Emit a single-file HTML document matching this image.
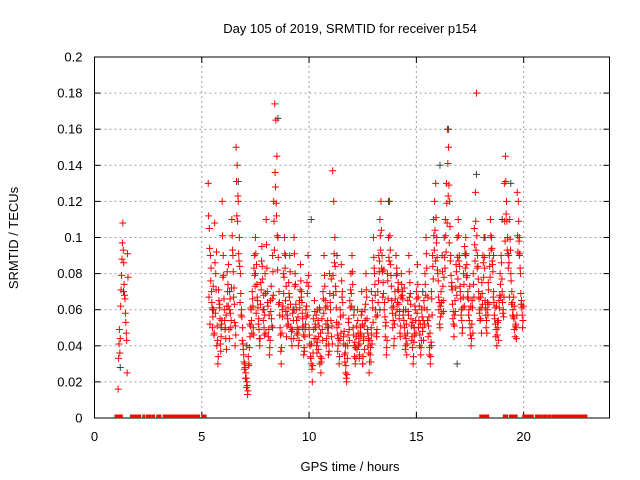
<!DOCTYPE html>
<html><head><meta charset="utf-8"><style>
html,body{margin:0;padding:0;background:#fff;}
svg{display:block;font-family:"Liberation Sans",sans-serif;}
</style></head><body>
<svg id="chart" width="640" height="480" viewBox="0 0 640 480" xmlns="http://www.w3.org/2000/svg">
<defs><clipPath id="pc"><rect x="94.5" y="57" width="515" height="361"/></clipPath></defs>
<rect x="0" y="0" width="640" height="480" fill="#fff"/>
<text x="350" y="33" font-size="13" text-anchor="middle" fill="#000">Day 105 of 2019, SRMTID for receiver p154</text>
<g id="grid"></g>
<g id="axes"></g>
<g id="grey" clip-path="url(#pc)"></g>
<g id="red" clip-path="url(#pc)"></g>
<text x="350" y="471" font-size="13" text-anchor="middle">GPS time / hours</text>
<text x="0" y="0" font-size="13" text-anchor="middle" transform="translate(18,238) rotate(-90)">SRMTID / TECUs</text>
</svg>
<script>
const xTicks=[0,5,10,15,20];
const yTicks=[0,0.02,0.04,0.06,0.08,0.1,0.12,0.14,0.16,0.18,0.2];
const yTickLabels=["0","0.02","0.04","0.06","0.08","0.1","0.12","0.14","0.16","0.18","0.2"];
const blockStart=[5.3,6.3,7.3,8.3,9.3,10.3,11.3,12.3,13.3,14.3,15.3,16.3,17.3,18.3,19.3];
const blockVals=[
[.13,.105,.09,.07,.05,.06,.108,.08,.04,.03,.065,.055,.045,.12,.09,.06,.05,.038,.07,.085],
[.06,.05,.11,.09,.072,.04,.15,.14,.12,.1,.08,.06,.05,.035,.03,.025,.02,.015,.03,.045],
[.06,.07,.05,.09,.1,.085,.065,.055,.04,.075,.095,.06,.05,.08,.11,.07,.045,.035,.065,.055],
[.09,.12,.174,.165,.145,.1,.07,.05,.03,.06,.08,.1,.065,.045,.055,.075,.09,.05,.04,.06],
[.1,.08,.06,.05,.04,.065,.085,.07,.055,.035,.045,.06,.075,.09,.05,.04,.03,.02,.055,.065],
[.05,.04,.06,.045,.03,.025,.055,.07,.09,.065,.04,.05,.035,.08,.06,.045,.137,.12,.1,.07],
[.05,.04,.03,.06,.085,.07,.045,.035,.025,.02,.04,.055,.065,.08,.09,.05,.04,.03,.045,.06],
[.04,.035,.05,.07,.03,.045,.06,.08,.055,.04,.025,.035,.05,.065,.1,.08,.06,.045,.07,.09],
[.11,.12,.09,.075,.06,.045,.035,.08,.1,.12,.085,.065,.05,.04,.07,.09,.06,.075,.055,.045],
[.08,.07,.06,.05,.04,.035,.065,.09,.075,.055,.045,.03,.05,.06,.07,.085,.05,.04,.035,.06],
[.05,.065,.08,.1,.06,.045,.035,.03,.07,.09,.11,.12,.13,.1,.08,.06,.05,.07,.09,.065],
[.1,.11,.13,.16,.15,.12,.09,.075,.055,.045,.065,.085,.1,.11,.09,.07,.06,.05,.08,.095],
[.1,.085,.07,.06,.05,.04,.065,.08,.105,.125,.18,.09,.07,.06,.055,.075,.09,.1,.065,.05],
[.06,.075,.09,.11,.1,.085,.07,.055,.045,.04,.05,.065,.08,.09,.07,.06,.13,.145,.12,.1],
[.09,.11,.08,.07,.06,.055,.045,.05,.125,.12,.1,.08,.065,.05]];
const blockVals2=[
[.112,.094,.076,.064,.056,.046,.086,.071,.051,.034,.061,.041,.052,.101,.079,.054,.044,.062,.074,.049],
[.066,.054,.101,.081,.063,.051,.131,.109,.091,.084,.069,.056,.041,.031,.028,.022,.018,.034,.039,.051],
[.054,.066,.046,.079,.091,.074,.061,.049,.044,.071,.084,.054,.046,.069,.096,.064,.049,.039,.059,.051],
[.081,.109,.136,.119,.101,.089,.064,.046,.039,.056,.069,.091,.059,.051,.061,.069,.081,.044,.049,.054],
[.091,.074,.054,.046,.049,.061,.076,.064,.051,.039,.049,.056,.069,.079,.046,.034,.041,.029,.049,.059],
[.044,.036,.054,.051,.034,.031,.049,.066,.079,.061,.044,.054,.041,.069,.054,.051,.079,.091,.084,.061],
[.046,.044,.034,.056,.076,.064,.041,.031,.029,.024,.046,.049,.061,.069,.081,.046,.034,.039,.051,.054],
[.044,.041,.046,.059,.034,.051,.054,.071,.049,.044,.031,.039,.046,.061,.089,.074,.056,.049,.064,.081],
[.101,.104,.081,.069,.064,.051,.039,.076,.089,.101,.079,.061,.054,.044,.066,.079,.064,.071,.059,.051],
[.074,.066,.054,.046,.044,.041,.059,.081,.069,.051,.039,.034,.046,.054,.066,.074,.054,.046,.039,.056],
[.054,.061,.074,.091,.054,.051,.039,.034,.066,.084,.101,.104,.111,.089,.076,.064,.056,.064,.081,.059],
[.089,.101,.119,.141,.129,.106,.079,.071,.059,.051,.059,.081,.089,.101,.084,.066,.054,.061,.074,.091],
[.091,.079,.066,.054,.046,.044,.061,.074,.096,.109,.101,.084,.066,.054,.061,.069,.086,.089,.061,.054],
[.064,.071,.084,.101,.094,.081,.064,.061,.049,.046,.054,.061,.074,.086,.064,.056,.109,.131,.109,.091],
[.086,.099,.076,.064,.056,.049,.051,.044,.101,.109,.091,.069,.061,.054]];
const blockVals3=[
[.067,.052,.083,.061,.073,.047,.058,.092,.043,.071,.063,.037,.054,.078,.066,.049,.057,.081,.062,.044],
[.058,.072,.093,.067,.053,.046,.112,.123,.087,.064,.057,.043,.038,.027,.022,.017,.013,.029,.052,.061],
[.047,.062,.083,.073,.058,.067,.052,.044,.063,.087,.077,.068,.057,.047,.083,.062,.057,.043,.073,.066],
[.068,.093,.128,.112,.082,.063,.057,.037,.047,.062,.078,.083,.073,.057,.052,.067,.063,.048,.058,.044],
[.073,.063,.047,.056,.043,.071,.067,.058,.046,.037,.052,.062,.057,.073,.041,.033,.027,.036,.044,.052],
[.057,.042,.038,.061,.047,.033,.043,.058,.073,.052,.062,.047,.037,.064,.077,.041,.068,.086,.073,.053],
[.037,.052,.043,.047,.067,.057,.048,.036,.022,.033,.053,.043,.071,.062,.074,.057,.042,.033,.038,.047],
[.033,.047,.057,.052,.043,.038,.063,.067,.047,.036,.043,.031,.041,.053,.083,.068,.047,.057,.076,.087],
[.093,.083,.067,.082,.056,.053,.043,.066,.087,.093,.073,.058,.062,.052,.057,.083,.071,.063,.047,.067],
[.068,.057,.072,.038,.052,.047,.057,.067,.063,.043,.053,.042,.062,.047,.058,.067,.062,.052,.043,.048],
[.043,.052,.068,.083,.067,.056,.047,.042,.057,.077,.093,.087,.097,.082,.067,.052,.062,.058,.073,.078],
[.083,.092,.108,.123,.097,.087,.073,.063,.052,.057,.072,.068,.077,.087,.073,.057,.047,.067,.062,.083],
[.078,.067,.057,.073,.062,.052,.047,.067,.087,.093,.083,.077,.058,.067,.047,.063,.078,.083,.057,.047],
[.057,.063,.078,.093,.087,.067,.057,.052,.062,.053,.043,.068,.067,.077,.058,.067,.098,.113,.093,.083],
[.067,.093,.063,.057,.067,.062,.052,.057,.092,.098,.083,.063,.057,.062]];
const earlyT=[1.1,1.12,1.14,1.16,1.18,1.2,1.22,1.24,1.26,1.28,1.3,1.32,1.34,1.36,1.38,1.4,1.42,1.44,1.46,1.48,1.5,1.52,1.54,1.56];
const earlyV=[.016,.033,.041,.049,.036,.044,.062,.071,.079,.088,.097,.108,.093,.086,.074,.068,.066,.058,.053,.047,.043,.025,.091,.078];
const greyT=[1.2,1.35,5.5,5.9,6.3,6.7,7.1,7.5,7.9,8.3,8.55,8.9,9.3,9.7,10.1,10.5,10.9,11.3,11.7,12.1,12.5,12.9,13.3,13.7,14.1,14.5,14.9,15.3,15.7,16.1,16.5,16.9,17.3,17.8,18.2,18.6,19.0,19.4,19.8];
const greyV=[.028,.07,.06,.05,.07,.131,.04,.08,.06,.05,.166,.09,.06,.05,.11,.06,.05,.09,.04,.06,.03,.07,.06,.12,.08,.06,.05,.07,.04,.14,.16,.03,.09,.135,.1,.09,.11,.13,.09];
const zeroT=[1.0,1.05,1.1,1.15,1.2,1.25,1.72,1.85,1.97,2.1,2.3,2.47,2.6,2.75,2.95,3.05,3.25,3.3,3.35,3.45,3.55,3.6,3.7,3.8,3.85,3.9,4.0,4.05,4.1,4.2,4.25,4.3,4.4,4.45,4.55,4.65,4.75,4.85,5.05,5.15,18.0,18.08,18.16,18.24,18.32,19.1,19.2,19.38,19.48,19.58,19.65,20.0,20.1,20.2,20.3,20.4,20.6,20.7,20.8,20.95,21.05,21.2,21.35,21.45,21.58,21.68,21.8,21.9,22.0,22.1,22.2,22.3,22.4,22.5,22.6,22.7,22.8,22.9];
const X0=94.5,X1=609.5,Y0=418,Y1=57,XMAX=24.0,YMAX=0.2;
const sx=t=>X0+(X1-X0)*t/XMAX;
const sy=v=>Y0-(Y0-Y1)*v/YMAX;
const NS="http://www.w3.org/2000/svg";
function mk(tag,attrs,parent){const e=document.createElementNS(NS,tag);for(const k in attrs)e.setAttribute(k,attrs[k]);parent.appendChild(e);return e;}
const grid=document.getElementById('grid'),axes=document.getElementById('axes');
yTicks.forEach((v,i)=>{const y=sy(v);
 if(i>0&&i<yTicks.length-1){const g=mk('line',{x1:X0,x2:X1,y1:y,y2:y,stroke:'#a0a0a0','stroke-dasharray':'2,3'},grid);}
 const tk=mk('line',{x1:X0,x2:X0+6,y1:y,y2:y,stroke:'#000'},axes);
 const tk2=mk('line',{x1:X1,x2:X1-6,y1:y,y2:y,stroke:'#000'},axes);
 const t=mk('text',{x:X0-12,y:y+4.5,'font-size':13,'text-anchor':'end'},axes);t.textContent=yTickLabels[i];
 });
xTicks.forEach(v=>{const x=sx(v);
 if(v>0){const g=mk('line',{x1:x,x2:x,y1:Y0,y2:Y1,stroke:'#a0a0a0','stroke-dasharray':'2,3'},grid);}
 const tk=mk('line',{x1:x,x2:x,y1:Y0,y2:Y0-6,stroke:'#000'},axes);
 const tk2=mk('line',{x1:x,x2:x,y1:Y1,y2:Y1+6,stroke:'#000'},axes);
 const t=mk('text',{x:x,y:Y0+23,'font-size':13,'text-anchor':'middle'},axes);t.textContent=String(v);
 });
const frame=mk('rect',{x:X0,y:Y1,width:X1-X0,height:Y0-Y1,fill:'none',stroke:'#000'},axes);

function plus(g,t,v,col,name){const x=sx(t),y=sy(v);
 const p=mk('path',{d:`M${x-3.5},${y}h7M${x},${y-3.5}v7`,stroke:col,'stroke-width':1,fill:'none'},g);
 }
const gG=document.getElementById('grey'),gR=document.getElementById('red');
greyT.forEach((t,i)=>plus(gG,t,greyV[i],'#404040','grey-point'));
earlyT.forEach((t,i)=>plus(gR,t,earlyV[i],'#ff0000','red-point'));
blockStart.forEach((s,b)=>{
 blockVals[b].forEach((v,i)=>plus(gR,s+i*0.05,v,'#ff0000','red-point'));
 blockVals2[b].forEach((v,i)=>plus(gR,s+0.017+i*0.05,v,'#ff0000','red-point'));
 blockVals3[b].forEach((v,i)=>plus(gR,s+0.034+i*0.05,v,'#ff0000','red-point'));});
zeroT.forEach(t=>{const x=sx(t);const r=mk('rect',{x:x-1.5,y:Y0-3.5,width:3,height:3.5,fill:'#ff0000'},gR);
 });
</script>
</body></html>
